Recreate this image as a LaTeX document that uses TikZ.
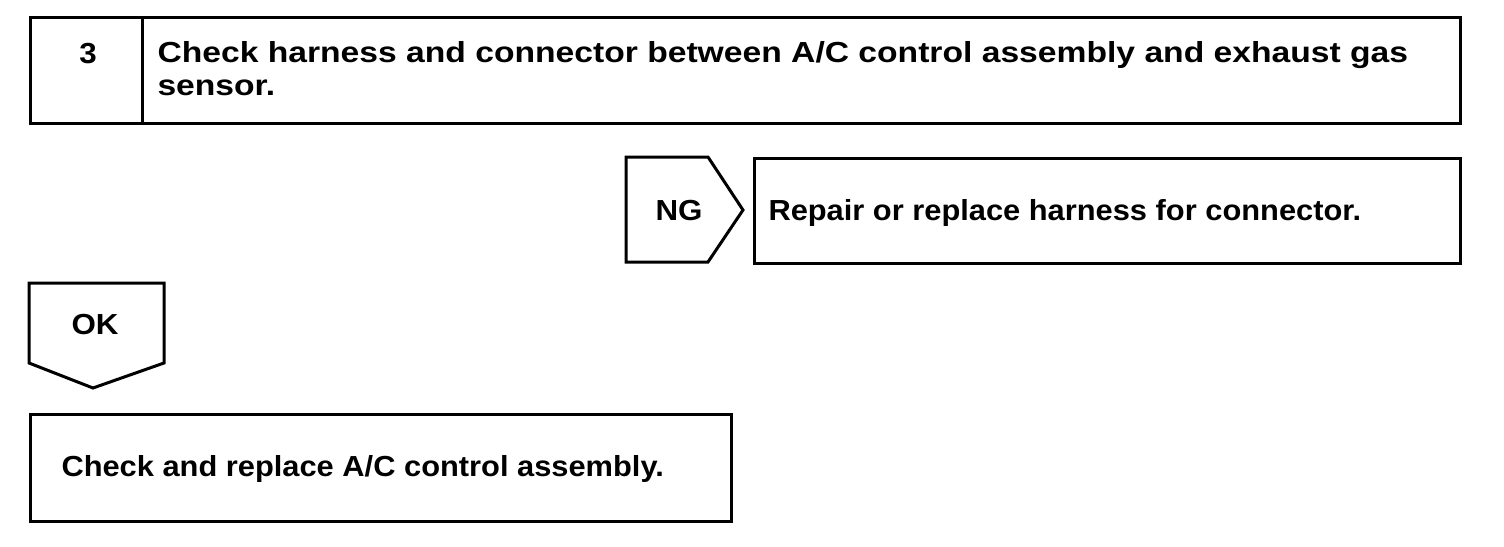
\documentclass[tikz,border=0pt]{standalone}
\usepackage{fontspec}
\setmainfont{Liberation Sans}
\begin{document}
\begin{tikzpicture}[x=1pt,y=-1pt, line width=3pt, line join=miter,
  box/.style={draw, rectangle, inner sep=0pt, anchor=north west},
  lbl/.style={font=\fontsize{29}{33}\selectfont\bfseries, inner sep=0pt, anchor=base west},
  clbl/.style={font=\fontsize{29}{33}\selectfont\bfseries, inner sep=0pt, anchor=base}]
\useasboundingbox (0,0) rectangle (1504,546);
% step box
\node[box, minimum width=1430pt, minimum height=106pt] (step) at (29,16) {};
\draw (step.north west -| 142,0) -- (step.south west -| 142,0);
\node[clbl] (num) at (88,63) {\scalebox{1.08}[1]{3}};
\node[lbl] (title1) at (156,62) {\scalebox{1.16}[1]{Check harness and connector between A/C control assembly and exhaust gas}};
\node[lbl] (title2) at (156,95) {\scalebox{1.16}[1]{sensor.}};
% NG arrow
\draw (626,157) -- (708,157) -- (743,210) -- (708,262) -- (626,262) -- cycle;
\node[clbl] (ng) at (679,220) {\scalebox{1.08}[1]{NG}};
\node[box, minimum width=706pt, minimum height=105pt] (repair) at (753,157) {};
\node[lbl] (repairtxt) at (767,220) {\scalebox{1.063}[1]{Repair or replace harness for connector.}};
% OK arrow
\draw (29,283) -- (164,283) -- (164,363) -- (93,388) -- (29,363) -- cycle;
\node[clbl] (ok) at (95,334) {\scalebox{1.08}[1]{OK}};
\node[box, minimum width=701pt, minimum height=107pt] (final) at (29,413) {};
\node[lbl] (finaltxt) at (60,476) {\scalebox{1.063}[1]{Check and replace A/C control assembly.}};
\end{tikzpicture}
\end{document}
